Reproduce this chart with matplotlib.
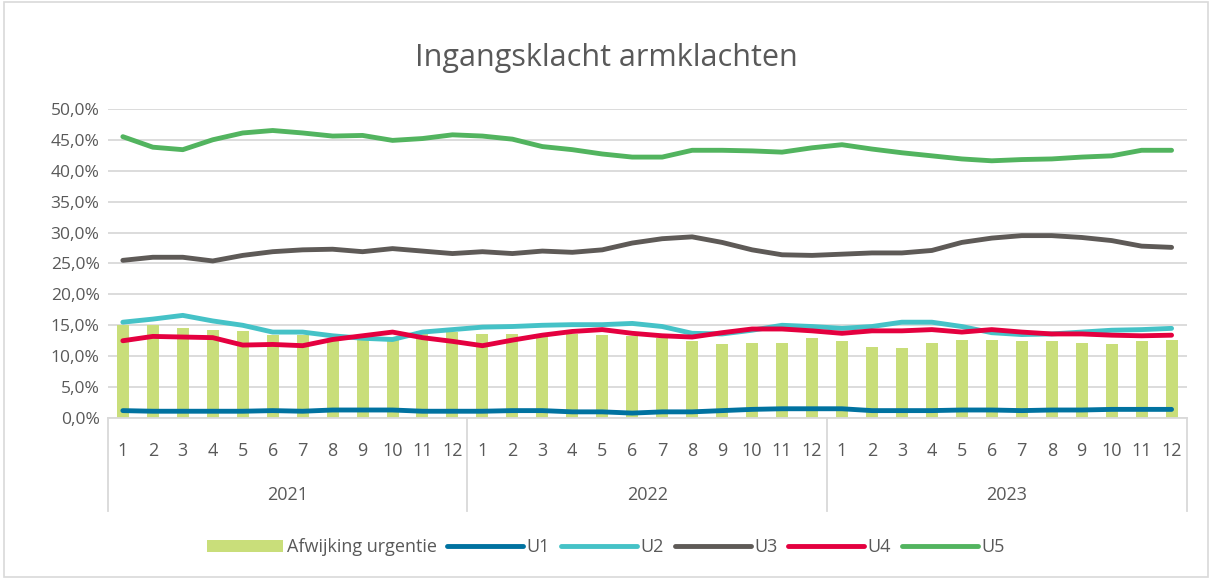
import numpy as np
import matplotlib.pyplot as plt
from matplotlib.ticker import FuncFormatter, MultipleLocator
from matplotlib.patches import Rectangle
from matplotlib.lines import Line2D

plt.rcParams['font.family'] = ['Open Sans', 'DejaVu Sans']

# data (percent)
years = ['2021', '2022', '2023']
months = [str(m) for m in range(1, 13)]

afwijking = [15.0, 15.0, 14.6, 14.3, 14.0, 13.5, 13.5, 12.8, 12.7, 12.6, 14.1, 13.9,
             13.6, 13.6, 13.6, 13.6, 13.4, 13.3, 12.9, 12.5, 12.0, 12.1, 12.2, 12.9,
             12.4, 11.5, 11.4, 12.1, 12.7, 12.6, 12.4, 12.4, 12.1, 12.0, 12.4, 12.6]
u1 = [1.2, 1.1, 1.1, 1.1, 1.1, 1.2, 1.1, 1.3, 1.3, 1.3, 1.1, 1.1,
      1.1, 1.2, 1.2, 1.0, 1.0, 0.8, 1.0, 1.0, 1.2, 1.4, 1.5, 1.5,
      1.5, 1.2, 1.2, 1.2, 1.3, 1.3, 1.2, 1.3, 1.3, 1.4, 1.4, 1.4]
u2 = [15.5, 16.0, 16.6, 15.7, 15.0, 13.9, 13.9, 13.3, 12.9, 12.7, 13.9, 14.3,
      14.7, 14.8, 15.0, 15.1, 15.1, 15.3, 14.8, 13.7, 13.6, 14.2, 15.0, 14.8,
      14.5, 14.8, 15.5, 15.5, 14.8, 13.8, 13.5, 13.6, 13.9, 14.2, 14.3, 14.5]
u3 = [25.5, 26.0, 26.0, 25.4, 26.3, 26.9, 27.2, 27.3, 26.9, 27.4, 27.0, 26.6,
      26.9, 26.6, 27.0, 26.8, 27.2, 28.3, 29.0, 29.3, 28.4, 27.2, 26.4, 26.3,
      26.5, 26.7, 26.7, 27.1, 28.4, 29.1, 29.5, 29.5, 29.2, 28.7, 27.8, 27.6]
u4 = [12.5, 13.2, 13.1, 13.0, 11.8, 11.9, 11.7, 12.7, 13.3, 13.9, 13.0, 12.4,
      11.7, 12.6, 13.4, 14.0, 14.3, 13.7, 13.3, 13.1, 13.8, 14.4, 14.4, 14.1,
      13.7, 14.1, 14.1, 14.3, 13.9, 14.3, 13.9, 13.6, 13.6, 13.4, 13.3, 13.4]
u5 = [45.5, 43.8, 43.4, 45.0, 46.1, 46.5, 46.1, 45.6, 45.7, 44.9, 45.2, 45.8,
      45.6, 45.1, 43.9, 43.4, 42.7, 42.2, 42.2, 43.3, 43.3, 43.2, 43.0, 43.7,
      44.2, 43.5, 42.9, 42.4, 41.9, 41.6, 41.8, 41.9, 42.2, 42.4, 43.3, 43.3]

c_bar = '#C9DE7A'
colors = {'U1': '#0072A0', 'U2': '#45C2C7', 'U3': '#5E5A57', 'U4': '#E4003F', 'U5': '#52B45F'}
grid_c = '#D9D9D9'
text_c = '#595959'

x = np.arange(len(afwijking))

fig = plt.figure(figsize=(12.12, 5.79), dpi=100)
ax = fig.add_axes([0.089, 0.278, 0.890, 0.534])

ax.bar(x, np.array(afwijking) / 100, width=0.4, color=c_bar, zorder=2, label='Afwijking urgentie')
for name, vals in [('U1', u1), ('U2', u2), ('U3', u3), ('U4', u4), ('U5', u5)]:
    ax.plot(x, np.array(vals) / 100, color=colors[name], lw=3.5, solid_capstyle='round',
            solid_joinstyle='round', zorder=3, label=name)

ax.set_xlim(-0.5, len(x) - 0.5)
ax.set_ylim(0, 0.5)
ax.yaxis.set_major_locator(MultipleLocator(0.05))
ax.yaxis.set_major_formatter(FuncFormatter(lambda v, p: f'{v*100:.1f}%'.replace('.', ',')))
ax.grid(axis='y', color=grid_c, lw=1.3, zorder=0)
ax.set_axisbelow(True)
for s in ['top', 'right', 'left']:
    ax.spines[s].set_visible(False)
ax.spines['bottom'].set_color(grid_c)
ax.spines['bottom'].set_linewidth(1.3)
ax.tick_params(axis='y', length=0, labelsize=12.5, colors=text_c, pad=6)
ax.set_xticks([])

# multi-level category axis
trans = ax.get_xaxis_transform()
for i in x:
    ax.text(i, -0.105, months[i % 12], transform=trans, ha='center', va='center',
            fontsize=13, color=text_c)
for k, yr in enumerate(years):
    ax.text(12 * k + 5.5, -0.25, yr, transform=trans, ha='center', va='center',
            fontsize=13, color=text_c)
for b in [-0.5, 11.5, 23.5, 35.5]:
    ax.add_line(Line2D([b, b], [0, -0.30], transform=trans, color=grid_c, lw=1.3,
                       clip_on=False))

fig.suptitle('Ingangsklacht armklachten', y=0.925, fontsize=22, color=text_c)

handles, labels = ax.get_legend_handles_labels()
order = [labels.index('Afwijking urgentie')] + [labels.index(n) for n in ['U1', 'U2', 'U3', 'U4', 'U5']]
fig.legend([handles[i] for i in order], [labels[i] for i in order], loc='center',
           bbox_to_anchor=(0.5, 0.055), ncol=6, frameon=False, fontsize=13,
           labelcolor=text_c, handlelength=4.2, handletextpad=0.2, columnspacing=0.6)

fig.patches.append(Rectangle((0.003, 0.004), 0.994, 0.992, transform=fig.transFigure,
                             fill=False, edgecolor=grid_c, lw=1.2))

fig.savefig('out.png', dpi=100)
